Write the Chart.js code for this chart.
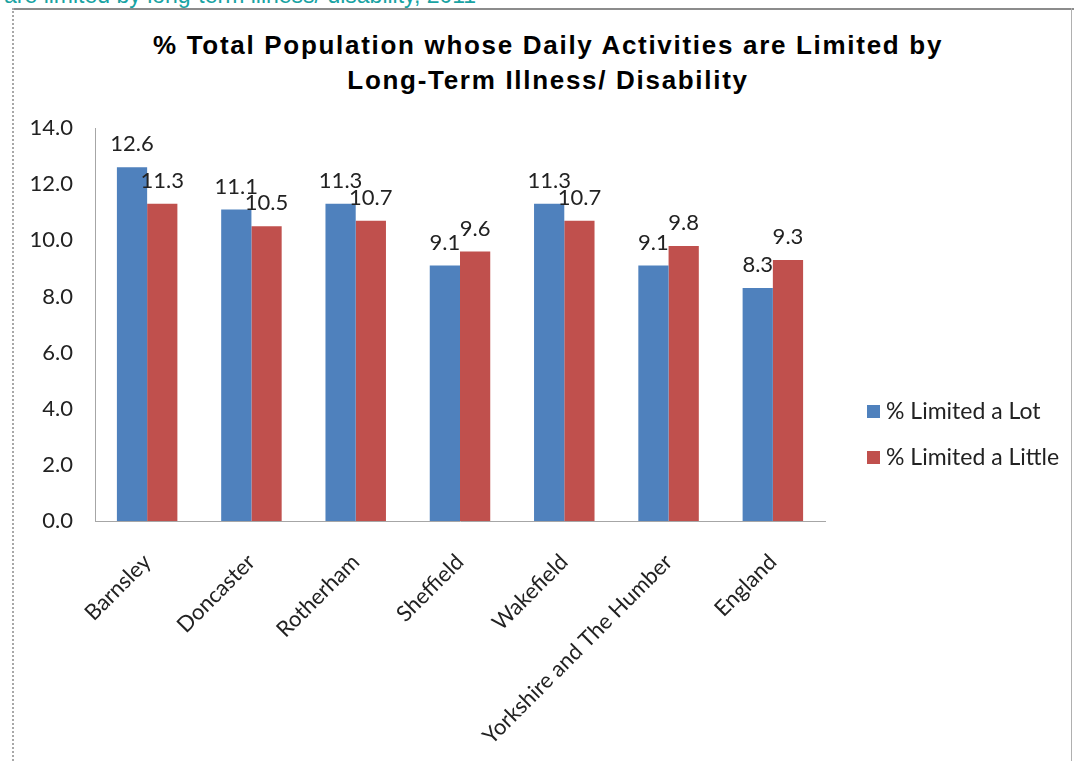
<!DOCTYPE html>
<html>
<head>
<meta charset="utf-8">
<script src="https://cdn.jsdelivr.net/npm/chart.js@4.4.1/dist/chart.umd.min.js"></script>
<style>
  html, body { margin: 0; padding: 0; background: #fff; }
  #wrap { position: relative; width: 1074px; height: 761px; overflow: hidden; }
  #chart { position: absolute; left: 0; top: 0; }
  .caption { position: absolute; left: 4px; top: -18px; font: 23px "Liberation Sans", Arial, sans-serif; color: #19a3a3; white-space: nowrap; }
  .frameTop { position: absolute; left: 12px; top: 8px; width: 1062px; height: 2px; background: #8c8c8c; }
  .frameLeft { position: absolute; left: 12px; top: 8px; width: 0; height: 753px; border-left: 2px dotted #a8a8a8; }
  .frameRight { position: absolute; left: 1071px; top: 8px; width: 1px; height: 753px; background: #b0b0b0; }
  .title { position: absolute; left: 0; width: 1096px; top: 28px; text-align: center; font: bold 26px "Liberation Sans", Arial, sans-serif; letter-spacing: 1.7px; line-height: 35px; color: #000; }
  .legend { position: absolute; left: 867px; top: 396px; font: 23px Lato, "Open Sans", sans-serif; color: #222; }
  .legend div { height: 46px; display: flex; align-items: flex-start; white-space: nowrap; }
  .legend span.sw { display: inline-block; width: 13px; height: 13px; margin: 9px 6px 0 0; }
</style>
</head>
<body>
<div id="wrap">
  <div class="caption">are limited by long-term illness/ disability, 2011</div>
  <div class="frameTop"></div>
  <div class="frameLeft"></div>
  <div class="frameRight"></div>
  <div class="title">% Total Population whose Daily Activities are Limited by<br>Long-Term Illness/ Disability</div>
  <canvas id="chart" width="1074" height="761"></canvas>
  <div class="legend">
    <div><span class="sw" style="background:#4f81bd"></span>% Limited a Lot</div>
    <div><span class="sw" style="background:#c0504d"></span>% Limited a Little</div>
  </div>
</div>
<script>
// Data
const areas = ["Barnsley", "Doncaster", "Rotherham", "Sheffield", "Wakefield", "Yorkshire and The Humber", "England"];
const limitedLot = [12.6, 11.1, 11.3, 9.1, 11.3, 9.1, 8.3];
const limitedLittle = [11.3, 10.5, 10.7, 9.6, 10.7, 9.8, 9.3];
const seriesNames = ["% Limited a Lot", "% Limited a Little"];

const tickFont = { family: 'Lato, "Open Sans", sans-serif', size: 22 };

// value labels above every bar
const barLabels = {
  id: 'barLabels',
  afterDatasetsDraw(chart) {
    const ctx = chart.ctx;
    ctx.save();
    ctx.font = '22px Lato, "Open Sans", sans-serif';
    ctx.fillStyle = '#222';
    ctx.textAlign = 'center';
    ctx.textBaseline = 'bottom';
    chart.data.datasets.forEach((ds, i) => {
      chart.getDatasetMeta(i).data.forEach((bar, j) => {
        ctx.fillText(ds.data[j].toFixed(1), bar.x, bar.y - 12);
      });
    });
    ctx.restore();
  }
};

new Chart(document.getElementById('chart').getContext('2d'), {
  type: 'bar',
  data: {
    labels: areas,
    datasets: [
      { label: seriesNames[0], data: limitedLot, backgroundColor: '#4f81bd' },
      { label: seriesNames[1], data: limitedLittle, backgroundColor: '#c0504d' }
    ]
  },
  options: {
    responsive: false,
    animation: false,
    layout: { padding: { left: 22, right: 249, top: 128, bottom: 0 } },
    datasets: { bar: { categoryPercentage: 0.58, barPercentage: 1.0 } },
    plugins: {
      legend: { display: false },
      tooltip: { enabled: false }
    },
    scales: {
      x: {
        grid: { display: false, drawTicks: false },
        border: { color: '#a6a6a6', width: 1 },
        ticks: { color: '#222', font: tickFont, minRotation: 45, maxRotation: 45, padding: 28, labelOffset: 0 },
        afterFit(s) { s.height = 240; }
      },
      y: {
        min: 0, max: 14,
        grid: { display: false, drawTicks: false },
        border: { color: '#a6a6a6', width: 1 },
        ticks: { stepSize: 2, color: '#222', font: tickFont, padding: 22, callback: v => v.toFixed(1) },
        afterFit(s) { s.width = 73; }
      }
    }
  },
  plugins: [barLabels]
});
</script>
</body>
</html>
